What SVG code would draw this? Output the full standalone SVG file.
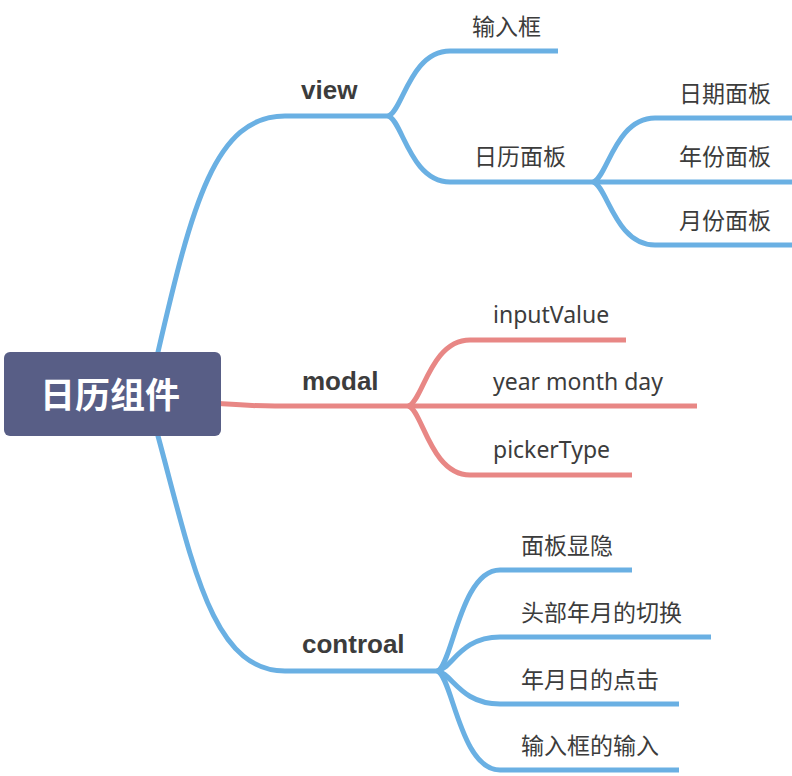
<svg xmlns="http://www.w3.org/2000/svg" width="792" height="776" viewBox="0 0 792 776">
<style>
.b{fill:none;stroke:#6ab0e3;stroke-width:5;stroke-linecap:butt}
.r{fill:none;stroke:#e88785;stroke-width:5;stroke-linecap:butt}
.main{font-family:"Liberation Sans","Noto Sans CJK SC",sans-serif;font-weight:bold;font-size:26px;fill:#3c3c3c}
.sub{font-family:"Noto Sans","Noto Sans CJK SC",sans-serif;font-size:23px;fill:#3c3c3c}
.root{font-family:"Noto Sans CJK SC",sans-serif;font-weight:bold;font-size:35px;fill:#ffffff}
</style>
<g id="connectors">
<path class="b" d="M158,380 L158,352 C 192,205 215,116 285,116 L388,116"/>
<path class="b" d="M388,116 C 402,113 410,51 450,51 L558,51"/>
<path class="b" d="M388,116 C 402,119 410,182 450,182 L593,182"/>
<path class="b" d="M593,182 C 607,179 615,118 655,118 L792,118"/>
<path class="b" d="M593,182 L792,182"/>
<path class="b" d="M593,182 C 607,185 615,245 655,245 L792,245"/>
<path class="r" d="M210,403 C 240,405 250,406 275,406 L408,406"/>
<path class="r" d="M408,406 C 422,404 430,340 470,340 L626,340"/>
<path class="r" d="M408,406 L697,406"/>
<path class="r" d="M408,406 C 422,408 430,475 470,475 L632,475"/>
<path class="b" d="M158,420 L158,436 C 193,565 212,671 285,671 L437,671"/>
<path class="b" d="M437,671 C 452,668 460,570 500,570 L632,570"/>
<path class="b" d="M437,671 C 452,669 460,637 500,637 L711,637"/>
<path class="b" d="M437,671 C 452,673 460,704 500,704 L679,704"/>
<path class="b" d="M437,671 C 452,674 460,770 500,770 L679,770"/>
</g>
<g id="root">
<rect x="4" y="352" width="217" height="84" rx="6" fill="#585e86"/>
<text class="root" x="110" y="408" text-anchor="middle">日历组件</text>
</g>
<g id="view"><text class="main" x="301" y="99">view</text></g>
<g id="modal"><text class="main" x="302" y="390">modal</text></g>
<g id="controal"><text class="main" x="302" y="653">controal</text></g>
<g id="n-input"><text class="sub" x="472" y="35">输入框</text></g>
<g id="n-calpanel"><text class="sub" x="474" y="165">日历面板</text></g>
<g id="n-datepanel"><text class="sub" x="679" y="102">日期面板</text></g>
<g id="n-yearpanel"><text class="sub" x="679" y="165">年份面板</text></g>
<g id="n-monthpanel"><text class="sub" x="679" y="229">月份面板</text></g>
<g id="n-inputValue"><text class="sub" x="493" y="323">inputValue</text></g>
<g id="n-ymd"><text class="sub" x="493" y="390">year month day</text></g>
<g id="n-pickerType"><text class="sub" x="493" y="458">pickerType</text></g>
<g id="n-toggle"><text class="sub" x="521" y="554">面板显隐</text></g>
<g id="n-switch"><text class="sub" x="521" y="621">头部年月的切换</text></g>
<g id="n-click"><text class="sub" x="521" y="688">年月日的点击</text></g>
<g id="n-typing"><text class="sub" x="521" y="754">输入框的输入</text></g>
</svg>
